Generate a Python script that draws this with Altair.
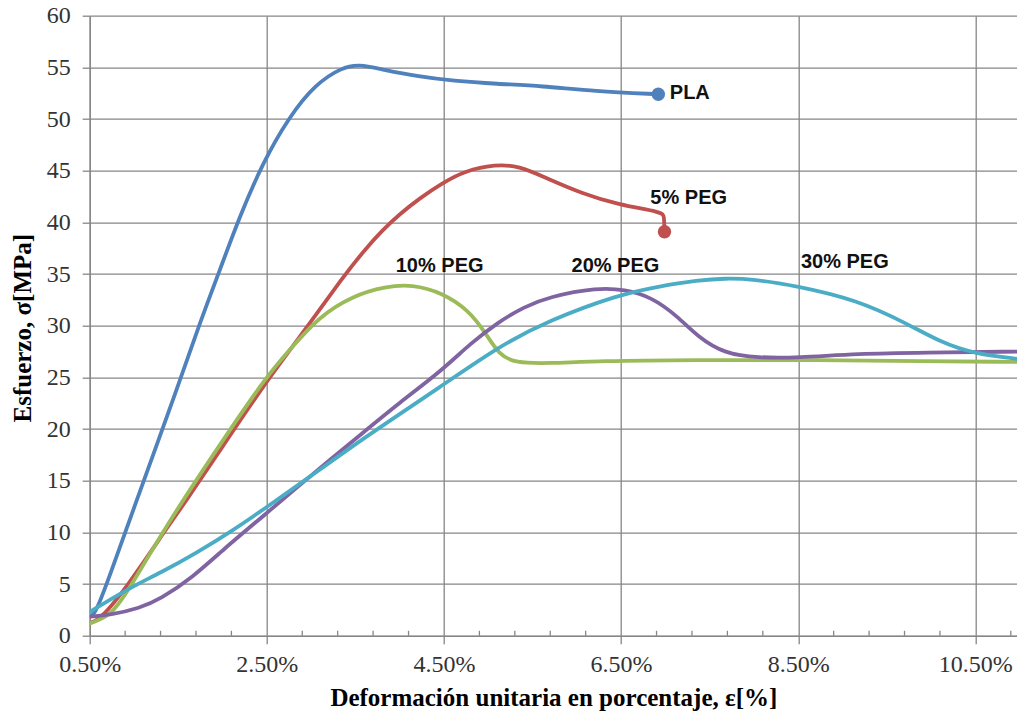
import altair as alt
import pandas as pd

# ---------------- data ----------------
series_names = ["PLA", "5% PEG", "10% PEG", "20% PEG", "30% PEG"]
series_colors = ["#4F81BD", "#C0504D", "#9BBB59", "#8064A2", "#4BACC6"]

pla_x = [0.53, 0.58, 0.73, 0.95, 1.52, 1.74, 1.97, 2.19, 2.45, 2.75, 3.05, 3.35, 3.54,
         3.80, 4.22, 4.60, 5.10, 5.60, 6.20, 6.92]
pla_y = [2.0, 2.5, 5.9, 11.2, 24.7, 30.2, 35.4, 40.5, 45.7, 50.2, 53.4, 55.0, 55.3,
         54.8, 54.1, 53.7, 53.4, 53.2, 52.7, 52.4]

peg5_x = [0.52, 0.62, 0.92, 1.40, 1.52, 2.00, 2.49, 3.02, 3.35, 3.60, 3.80, 4.00, 4.22,
          4.48, 4.74, 5.08, 5.34, 5.68, 6.06, 6.47, 6.97, 6.985, 6.99]
peg5_y = [1.3, 1.6, 4.7, 10.8, 12.2, 18.3, 24.6, 30.6, 34.6, 37.3, 39.2, 40.8, 42.3,
          43.8, 45.0, 45.6, 45.5, 44.2, 42.8, 41.7, 41.0, 40.6, 39.1]

peg10_x = [0.50, 0.73, 0.92, 1.40, 2.08, 2.49, 2.75, 3.09, 3.47, 3.84, 4.14, 4.48, 4.78,
           4.97, 5.12, 5.30, 5.68, 6.24, 7.37, 8.50, 9.50, 10.97]
peg10_y = [1.2, 1.9, 4.1, 11.2, 19.9, 25.0, 27.6, 30.9, 32.9, 33.8, 34.0, 33.2, 31.5,
           29.3, 27.2, 26.4, 26.35, 26.6, 26.7, 26.7, 26.6, 26.5]

peg20_x = [0.50, 0.73, 1.07, 1.29, 1.67, 2.00, 2.49, 2.94, 3.62, 3.99, 4.48, 4.80, 5.12,
           5.40, 5.68, 6.24, 6.54, 6.84, 7.14, 7.37, 7.67, 8.04, 8.49, 9.17, 9.92, 10.97]
peg20_y = [1.85, 2.0, 2.7, 3.5, 5.7, 8.3, 11.8, 15.1, 19.9, 22.5, 25.7, 28.3, 30.4,
           31.8, 32.8, 33.7, 33.5, 32.8, 30.9, 28.9, 27.3, 26.9, 26.9, 27.3, 27.4, 27.5]

peg30_x = [0.50, 0.92, 1.30, 1.70, 2.10, 2.49, 2.94, 3.62, 4.48, 5.12, 5.68, 6.47, 6.92,
           7.37, 7.67, 8.00, 8.46, 9.17, 9.73, 10.11, 10.48, 10.97]
peg30_y = [2.3, 4.5, 6.1, 8.0, 10.1, 12.4, 15.1, 19.3, 24.2, 28.0, 30.5, 33.0, 33.8,
           34.4, 34.6, 34.5, 33.9, 32.5, 30.2, 28.4, 27.3, 26.8]

marker_x = [6.92, 6.99]
marker_y = [52.4, 39.1]
marker_colors = ["#4F81BD", "#C0504D"]

label_text = ["PLA", "5% PEG", "10% PEG", "20% PEG", "30% PEG"]
label_x = [7.05, 6.83, 3.955, 5.94, 8.53]
label_y = [51.9, 41.76, 35.2, 35.2, 35.54]

x_major = [0.5, 2.5, 4.5, 6.5, 8.5, 10.5]
x_minor = [0.9, 1.3, 1.7, 2.1, 2.9, 3.3, 3.7, 4.1, 4.9, 5.3, 5.7, 6.1,
           6.9, 7.3, 7.7, 8.1, 8.9, 9.3, 9.7, 10.1, 10.9]
y_major = list(range(0, 61, 5))

# ---------------- chart ----------------
W = 927.3
H = 620.1
GRID = "#868686"

xscale = alt.Scale(domain=[0.5, 10.97], nice=False, zero=False)
yscale = alt.Scale(domain=[0, 60], nice=False, zero=True)

xaxis = alt.Axis(
    values=x_major,
    labelExpr="format(datum.value, '.2f') + '%'",
    grid=True, gridColor=GRID, gridWidth=1.3,
    domainColor=GRID, domainWidth=1.3,
    tickColor=GRID, tickWidth=1.3, tickSize=8,
    labelFont="Liberation Serif", labelFontSize=24, labelColor="#333333",
    labelPadding=9, labelFlush=False, labelOverlap=False,
    title="Deformación unitaria en porcentaje, ε[%]",
    titleFont="Liberation Serif", titleFontSize=25, titleFontWeight="bold",
    titleColor="#000000", titleY=70, titleBaseline="alphabetic",
)
yaxis = alt.Axis(
    values=y_major,
    grid=True, gridColor=GRID, gridWidth=1.3,
    domainColor=GRID, domainWidth=1.3,
    tickColor=GRID, tickWidth=1.3, tickSize=7.5,
    labelFont="Liberation Serif", labelFontSize=24, labelColor="#333333",
    labelPadding=12, labelFlush=False, labelOverlap=False,
    title="Esfuerzo, σ[MPa]",
    titleFont="Liberation Serif", titleFontSize=25, titleFontWeight="bold",
    titleColor="#000000", titleX=-59, titleY=312, titleBaseline="alphabetic",
)

X = alt.X("x:Q", scale=xscale, axis=xaxis)
Y = alt.Y("y:Q", scale=yscale, axis=yaxis)

all_series = [(pla_x, pla_y), (peg5_x, peg5_y), (peg10_x, peg10_y),
              (peg20_x, peg20_y), (peg30_x, peg30_y)]

layers = []
for name, color, (xs, ys) in zip(series_names, series_colors, all_series):
    d = pd.DataFrame({"x": xs, "y": ys, "ord": list(range(len(xs))), "serie": name})
    layers.append(
        alt.Chart(d).mark_line(strokeWidth=3.8, interpolate="basis", clip=True,
                               strokeCap="round", strokeJoin="round")
        .encode(x=X, y=Y, order="ord:Q", color=alt.value(color))
    )

mk = pd.DataFrame({"x": marker_x, "y": marker_y, "c": marker_colors})
markers = alt.Chart(mk).mark_point(filled=True, shape="circle", size=180, opacity=1).encode(
    x=X, y=Y, color=alt.Color("c:N", scale=None, legend=None)
)

lab = pd.DataFrame({"x": label_x, "y": label_y, "t": label_text})
texts = alt.Chart(lab).mark_text(
    align="left", baseline="alphabetic", font="Liberation Sans",
    fontWeight="bold", fontSize=20, color="#111111"
).encode(x=X, y=Y, text="t:N")

mt = pd.DataFrame({"x": x_minor})
minor = alt.Chart(mt).mark_rule(color=GRID, strokeWidth=1.3).encode(
    x=X, y=alt.value(H), y2=alt.value(H - 5)
)

chart = alt.layer(minor, *layers, markers, texts).properties(
    width=W, height=H,
    autosize=alt.AutoSizeParams(type="none"),
    padding={"left": 89.7, "top": 15.7, "right": 0, "bottom": 717 - 15.7 - H},
    background="white",
).configure_view(stroke=None)

chart.save("out.html", embed_options={"renderer": "svg", "actions": False})
